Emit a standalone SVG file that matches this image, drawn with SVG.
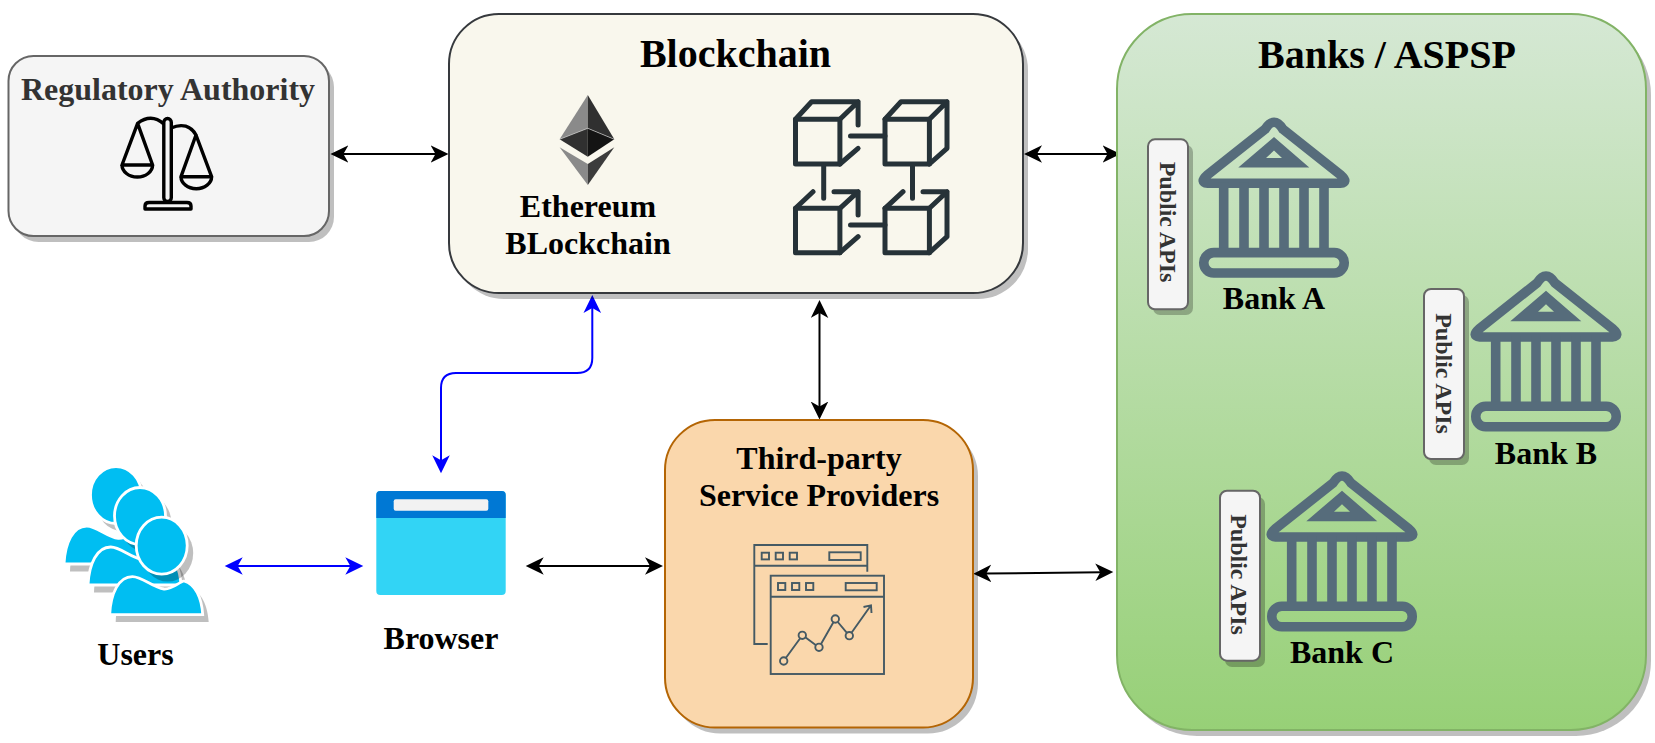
<svg xmlns="http://www.w3.org/2000/svg" xmlns:xlink="http://www.w3.org/1999/xlink" width="1655" height="743" viewBox="0 0 1655 743">
<style>
text{font-family:"Liberation Serif","Times New Roman",serif;font-weight:bold;fill:#000;text-anchor:middle;font-size:32px}
.t40{font-size:40px}
.gr{fill:#333}
.api{font-size:24px;fill:#333}
.sh{fill:#000;fill-opacity:.25}
.conn{fill:none;stroke:#000;stroke-width:2;marker-start:url(#ab);marker-end:url(#ab)}
.blue{stroke:#00f;marker-start:url(#au);marker-end:url(#au)}
.cube{fill:none;stroke:#263238;stroke-width:5;stroke-linecap:round;stroke-linejoin:round}
.bk{fill:none;stroke:#566c7b;stroke-width:9.6;stroke-linejoin:round}
.chart{fill:none;stroke:#455a64;stroke-width:1.9}
.sc{fill:none;stroke:#000;stroke-width:3.4;stroke-linejoin:round}
.apibox{fill:#f5f5f5;stroke:#666;stroke-width:2}
</style>
<defs>
<linearGradient id="gg" x1="0" y1="0" x2="0" y2="1"><stop offset="0" stop-color="#d5e8d4"/><stop offset="1" stop-color="#97d077"/></linearGradient>
<marker id="ab" markerUnits="userSpaceOnUse" markerWidth="20" markerHeight="20" refX="6" refY="9" orient="auto-start-reverse"><path d="M18 9L0 .2L5 9L0 17.8Z" fill="#000"/></marker>
<marker id="au" markerUnits="userSpaceOnUse" markerWidth="20" markerHeight="20" refX="6" refY="9" orient="auto-start-reverse"><path d="M18 9L0 .2L5 9L0 17.8Z" fill="#00f"/></marker>
<g id="bankIcon">
<path class="bk" d="M66 12Q75 -2 84 12L142 58Q150 65 141 66H9Q0 65 8 58Z"/>
<path d="M75 19.700L39.300 50.200H110.300ZM75 33.300L67 40.700H83Z" fill="#566c7b" fill-rule="evenodd"/>
<path class="bk" d="M24.700 65V135M45 65V135M65 65V135M85 65V135M105 65V135M125 65V135"/>
<rect class="bk" x="4.800" y="135.300" width="140.400" height="20.400" rx="10"/>
</g>
<g id="personShape">
<path d="M0 96.300C1 75 9 58.300 22.700 58.300C32.700 58.300 42.700 69 54.300 70.700C62.700 71.300 69.300 63.700 74.300 62.700C86 66 92 80 93 96.300Z"/>
<ellipse cx="52" cy="27.300" rx="25.500" ry="28.500"/>
</g>
<g id="person">
<use href="#personShape" x="6" y="7.500" fill="#000" fill-opacity=".25"/>
<use href="#personShape" fill="#00bef2" stroke="#fff" stroke-width="2.800"/>
</g>
</defs>

<g id="connectors">
<path class="conn" d="M342.400 154H436.500"/>
<path class="conn" d="M1036 154H1108.500"/>
<path class="conn" d="M819.500 312V407.500"/>
<path class="conn" d="M537.700 566H651"/>
<path class="conn" d="M985.300 573.550L1101.300 572.150"/>
<path class="conn blue" d="M236.700 566H351.300"/>
<path class="conn blue" d="M592.300 307V358Q592.300 373 577 373H456Q441 373 441 388V461.300"/>
</g>

<g id="regulatory-authority">
<rect class="sh" x="13.500" y="62" width="320.500" height="180" rx="25"/>
<rect x="8.500" y="56" width="320.500" height="180" rx="25" fill="#f5f5f5" stroke="#666" stroke-width="2"/>
<text class="gr" x="168" y="100">Regulatory Authority</text>
<g class="sc">
<rect x="163.800" y="118.500" width="7.500" height="83" rx="3.700"/>
<path d="M163.800 124C155 116 146 117 137.600 123.300L122 165H152.600L137.600 123.300"/>
<path d="M171 128C182 123 191 126 196 135L181 176.700H211.600L196 135"/>
<path d="M122 165A15.300 12 0 0 0 152.600 165M181 176.700A15.300 12 0 0 0 211.600 176.700"/>
<path d="M145 209V206Q145 202.500 149 202.500H187Q191 202.500 191 206V209Z"/>
</g>
</g>

<g id="blockchain">
<rect class="sh" x="454" y="20" width="574" height="279" rx="50"/>
<rect x="449" y="14" width="574" height="279" rx="50" fill="#f9f7ed" stroke="#36393d" stroke-width="2"/>
<text class="t40" x="735.500" y="67">Blockchain</text>
<g id="ethereum-icon">
<path d="M587.800 95L559.600 139.300L587.800 128.300Z" fill="#8a8a8a"/>
<path d="M587.800 95L614.300 139.300L587.800 128.300Z" fill="#303030"/>
<path d="M559.600 139.300L587.800 128.300V156.700Z" fill="#303030"/>
<path d="M614.300 139.300L587.800 128.300V156.700Z" fill="#141414"/>
<path d="M559.600 147.300L587.800 164V185Z" fill="#8a8a8a"/>
<path d="M614.300 147.300L587.800 164V185Z" fill="#3c3c3c"/>
<path d="M559.600 139.300L587.800 128.300L614.300 139.300" fill="none" stroke="#ddd" stroke-width=".6"/>
</g>
<text x="588" y="216.500">Ethereum</text>
<text x="588" y="254">BLockchain</text>
<g id="blocks-icon" class="cube">
<rect x="795.500" y="119.300" width="44.400" height="44.700"/>
<path d="M795.500 119.300L811.600 101.700H858.100V125M839.900 119.300L858.100 101.700M858.100 148.300L839.900 164"/>
<rect x="885" y="119.300" width="44.400" height="44.700"/>
<path d="M885 119.300L901 101.700H947V148.300L929.400 164M929.400 119.300L947 101.700"/>
<path d="M850.500 136H885M850.500 225H885M823.700 166V198.300M912.500 166V198.300"/>
<rect x="795.500" y="208.300" width="44.400" height="44.400"/>
<path d="M795.500 208.300L813 191.700M834 191.700H858.100V215M839.900 208.300L858.100 191.700M858.100 236.700L839.900 252.700"/>
<rect x="885" y="208.300" width="44.400" height="44.400"/>
<path d="M885 208.300L903 191.700M923 191.700H947V236.700L929.400 252.700M929.400 208.300L947 191.700"/>
</g>
</g>

<g id="banks">
<rect class="sh" x="1122" y="20" width="529" height="716" rx="75"/>
<rect x="1117" y="14" width="529" height="716" rx="75" fill="url(#gg)" stroke="#82b366" stroke-width="2"/>
<text class="t40" x="1387" y="68">Banks / ASPSP</text>
</g>
<g id="bank-a">
<rect class="sh" x="1153" y="145" width="40" height="170" rx="7"/>
<rect class="apibox" x="1148" y="139.300" width="40" height="170" rx="7"/>
<text class="api" transform="translate(1159.800 222) rotate(90)">Public APIs</text>
<use href="#bankIcon" x="1199" y="117.300"/>
<text x="1274" y="309">Bank A</text>
</g>
<g id="bank-b">
<rect class="sh" x="1429" y="295" width="40" height="170" rx="7"/>
<rect class="apibox" x="1424" y="289" width="40" height="170" rx="7"/>
<text class="api" transform="translate(1435.500 373.500) rotate(90)">Public APIs</text>
<use href="#bankIcon" x="1471" y="271"/>
<text x="1546" y="464">Bank B</text>
</g>
<g id="bank-c">
<rect class="sh" x="1225" y="497" width="40" height="170" rx="7"/>
<rect class="apibox" x="1220" y="490.700" width="40" height="170" rx="7"/>
<text class="api" transform="translate(1231 574.500) rotate(90)">Public APIs</text>
<use href="#bankIcon" x="1267" y="471"/>
<text x="1342" y="663">Bank C</text>
</g>

<g id="third-party">
<rect class="sh" x="670" y="426" width="308" height="307.500" rx="50"/>
<rect x="665" y="420" width="308" height="307.500" rx="50" fill="#fad7ac" stroke="#b46504" stroke-width="2"/>
<text x="819" y="468.500">Third-party</text>
<text x="819" y="506">Service Providers</text>
<g class="chart">
<path d="M767.700 644H754.300V545H867.300V571.700M754.300 565.700H867.300"/>
<rect x="761.700" y="552.700" width="7.300" height="6.700"/>
<rect x="775.700" y="552.700" width="7.300" height="6.700"/>
<rect x="789.700" y="552.700" width="7.300" height="6.700"/>
<rect x="829.300" y="552.300" width="31.400" height="7.700"/>
<rect x="770.700" y="575.700" width="113.300" height="98.300"/>
<path d="M770.700 596.700H884"/>
<rect x="778" y="583" width="7.300" height="7"/>
<rect x="792" y="583" width="7.300" height="7"/>
<rect x="806" y="583" width="7.300" height="7"/>
<rect x="845.700" y="583" width="31" height="7.300"/>
<path d="M785.800 658L800.200 638.300M805.300 637.300L816 645.300M821 644L833.400 622.200M837.800 622L846.900 632.800M851.500 632.700L871 605.300M863.500 607L871 605.300L871.500 613"/>
<circle cx="783.700" cy="661" r="3.700"/>
<circle cx="802.300" cy="635.300" r="3.700"/>
<circle cx="819" cy="647.300" r="3.700"/>
<circle cx="835.300" cy="619" r="3.700"/>
<circle cx="849.300" cy="635.700" r="3.700"/>
</g>
</g>

<g id="users">
<use href="#person" x="64" y="467.700"/>
<use href="#person" x="88" y="488.700"/>
<use href="#person" x="109.700" y="518.300"/>
<text x="135.500" y="665">Users</text>
</g>

<g id="browser">
<rect x="376.300" y="491" width="129.400" height="104" rx="4" fill="#32d4f5"/>
<path d="M376.300 518V495Q376.300 491 380.300 491H501.700Q505.700 491 505.700 495V518Z" fill="#0078d4"/>
<rect x="393.700" y="499.300" width="94.600" height="11.400" rx="2" fill="#f2f2f2"/>
<text x="441" y="649">Browser</text>
</g>
</svg>
